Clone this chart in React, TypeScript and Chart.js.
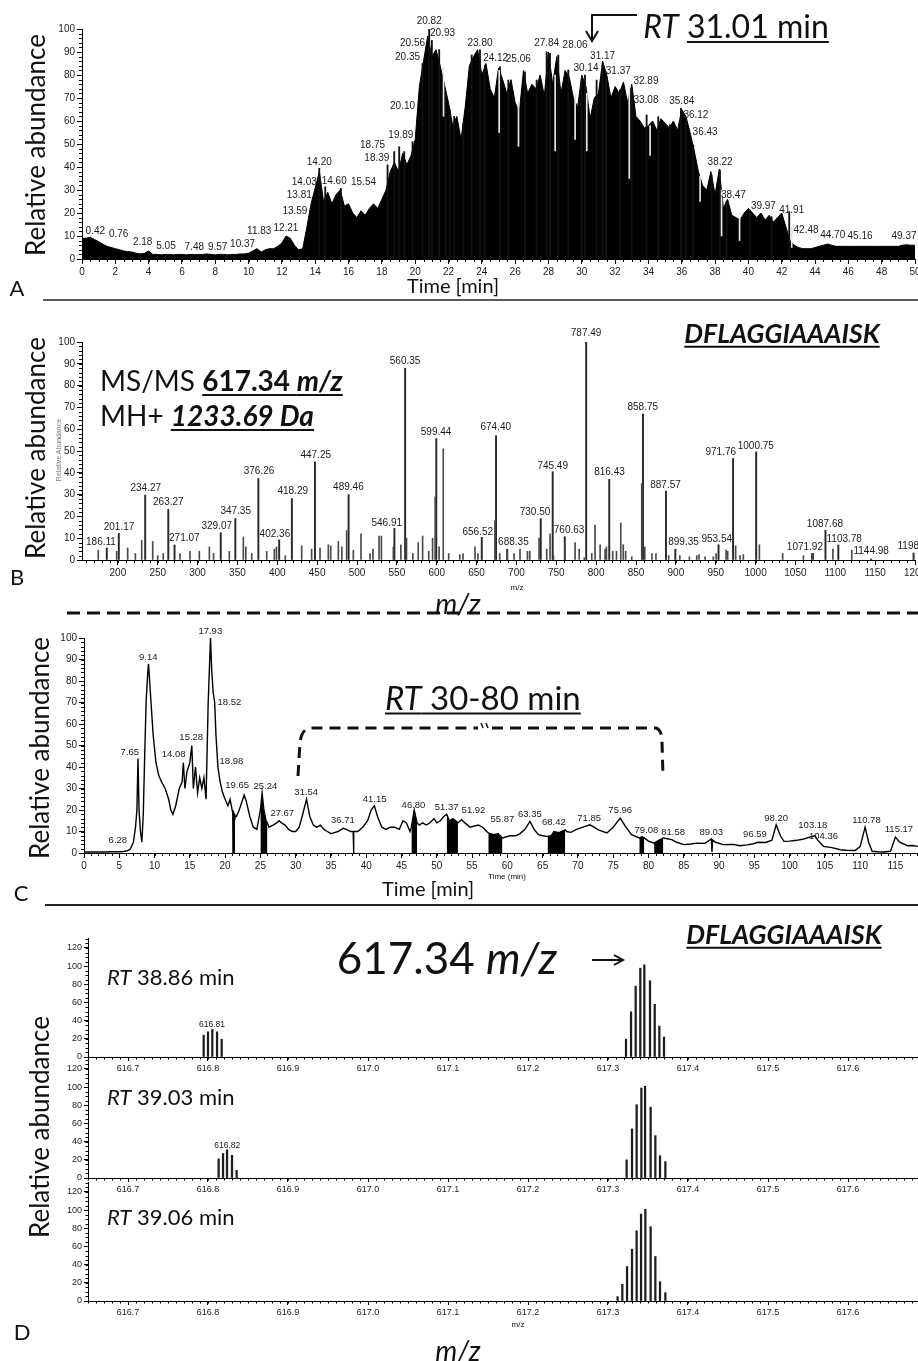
import React, { useEffect, useRef } from 'react';
import { Chart, registerables } from 'chart.js';

Chart.register(...registerables);

// ================= DATA =================
// Panel A – total ion chromatogram (time axis 0..50 min, sampled every 0.25 min)
const A_TIME_START = 0;
const A_TIME_STEP = 0.25;
const A_VALUES: number[] = [
  9, 9, 9.5, 8.5, 7.5, 6.5, 5.5, 5, 4.5, 4, 3.5, 3.2, 3, 2.5, 2.2, 2.5, 3.5, 2, 2, 1.8,
  2, 2, 1.8, 2, 2, 1.8, 2, 1.9, 2, 2, 2.2, 2, 1.8, 2, 2, 1.8, 2, 2, 2.2, 2.2,
  2.5, 3.5, 4.5, 3, 4, 4.5, 4.5, 5.5, 7, 10, 9, 6, 4, 4.5, 14, 24, 31, 38, 25, 29,
  24, 28, 30, 23, 24, 20, 18, 21, 19, 22, 24, 22, 26, 30, 38, 42, 38, 46, 41, 45,
  52, 75, 86, 97, 88, 91, 84, 76, 68, 58, 62, 52, 66, 84, 88, 91, 80, 85, 74, 70,
  83, 78, 72, 78, 68, 64, 82, 72, 76, 74, 80, 71, 90, 76, 88, 72, 82, 79, 70, 66,
  80, 75, 61, 70, 72, 86, 80, 70, 75, 72, 77, 68, 76, 62, 60, 57, 58, 60, 56, 61,
  59, 57, 60, 56, 65, 62, 55, 47, 38, 32, 30, 38, 28, 39, 22, 26, 19, 18, 17, 20,
  22, 20, 18, 20, 17, 19, 16, 18, 20, 14, 8, 6, 5, 4.5, 4.5, 4.5, 5, 5.5, 6, 6.5,
  6, 5.5, 5.5, 5.5, 5.5, 5.5, 5.5, 5.5, 5.5, 5.5, 5.5, 5.5, 5.5, 5.5, 5.5, 5.5, 5.5, 6, 6.2, 6,
  6,
];
// individual narrow scan spikes rising above the envelope [time, abundance]
const A_SPIKES: [number, number][] = [
  [14.24, 39.4], [14.6, 31.4], [15.54, 30.7], [18.34, 40.9], [18.74, 46.7], [19.04, 48.8], [19.34, 46.7],
  [19.84, 51], [20.44, 85], [20.84, 100], [21.0, 95], [21.44, 91], [21.84, 72], [22.08, 65], [22.34, 62],
  [22.89, 59], [23.39, 88.7], [23.89, 90.9], [24.18, 84.3], [25.09, 83.6], [25.59, 77.8], [26.59, 81.4],
  [27.29, 77.8], [27.89, 90.1], [28.09, 89.4], [28.59, 88.7], [29.19, 82.2], [29.99, 77.8], [30.19, 80],
  [30.89, 77.8], [31.25, 85], [31.45, 78.6], [32.29, 73.5], [32.99, 74.2], [33.89, 62.6], [34.59, 61.9],
  [35.29, 58.3], [35.95, 65.5], [36.25, 59.7], [36.69, 49.6], [37.79, 36.5], [38.29, 38.7], [38.69, 25],
  [40.09, 21.3], [41.39, 18.4], [42.45, 20.6],
];
// narrow dips cutting into the envelope [time, low, high]
const A_DIPS: [number, number, number][] = [
  [21.7, 62, 84], [25.04, 55, 82], [26.2, 49, 68], [28.4, 47, 80], [29.6, 52, 72], [30.3, 47, 72],
  [32.85, 35, 75], [34.1, 45, 58], [37.1, 25, 36], [38.39, 10, 30], [39.47, 8, 18], [42.6, 5, 14],
];
const A_X_TICKS = [0, 2, 4, 6, 8, 10, 12, 14, 16, 18, 20, 22, 24, 26, 28, 30, 32, 34, 36, 38, 40, 42, 44, 46, 48, 50];
const A_Y_TICKS = [0, 10, 20, 30, 40, 50, 60, 70, 80, 90, 100];
// [text, time, abundance] of each peak annotation
const A_PEAK_LABELS: [string, number, number][] = [
  ['0.42', 0.8, 12.2], ['0.76', 2.2, 10.7], ['2.18', 3.64, 7.1], ['5.05', 5.04, 5.4], ['7.48', 6.74, 5.1],
  ['9.57', 8.14, 5.1], ['10.37', 9.64, 6.4], ['11.83', 10.64, 12.2], ['12.21', 12.24, 13.3], ['13.59', 12.78, 20.9],
  ['13.81', 13.04, 27.8], ['14.03', 13.34, 33.2], ['14.20', 14.24, 42.2], ['14.60', 15.14, 33.9], ['15.54', 16.9, 33.3],
  ['18.39', 17.7, 43.8], ['18.75', 17.44, 49.6], ['19.89', 19.14, 53.6], ['20.10', 19.24, 66.5], ['20.35', 19.54, 87.7],
  ['20.56', 19.84, 94], ['20.82', 20.84, 103.5], ['20.93', 21.64, 98], ['23.80', 23.89, 93.8], ['24.12', 24.83, 87.2],
  ['25.06', 26.19, 86.8], ['27.84', 27.89, 94], ['28.06', 29.6, 92.8], ['30.14', 30.25, 82.9], ['31.17', 31.25, 88.3],
  ['31.37', 32.19, 81.7], ['32.89', 33.85, 77.1], ['33.08', 33.85, 69.1], ['35.84', 36.0, 68.4], ['36.12', 36.85, 62.6],
  ['36.43', 37.4, 54.9], ['38.22', 38.3, 41.9], ['38.47', 39.1, 27.8], ['39.97', 40.9, 23], ['41.91', 42.6, 21.3],
  ['42.48', 43.46, 12.6], ['44.70', 45.06, 10.4], ['45.16', 46.7, 9.7], ['49.37', 49.34, 10.1],
];

// Panel B – MS/MS spectrum [m/z, relative abundance]
const B_LABELED_PEAKS: [number, number][] = [
  [186.11, 5.5], [201.17, 12.2], [234.27, 29.8], [263.27, 23.2], [271.07, 6.9], [329.07, 12.5], [347.35, 19],
  [376.26, 37.4], [402.36, 9.2], [418.29, 28.2], [447.25, 45], [489.46, 30], [546.91, 14.5], [560.35, 88],
  [599.44, 55.7], [656.52, 10.4], [674.40, 57], [688.35, 5], [730.50, 19], [745.49, 40.5], [760.63, 10.7],
  [787.49, 100], [816.43, 37], [858.75, 67], [887.57, 31.6], [899.35, 5], [953.54, 7], [971.76, 46.6],
  [1000.75, 49.6], [1071.92, 3], [1087.68, 13.7], [1103.78, 6.9], [1144.98, 0.5], [1198.2, 3.2],
];
const B_MINOR_PEAKS: [number, number][] = [
  [175.4, 4.5], [198.5, 4], [212.3, 5.5], [222, 3], [229.9, 9], [243.7, 8.5], [250, 2], [257, 3], [278, 3],
  [290.5, 4], [302.2, 4], [314.8, 6], [320, 3], [339.8, 4], [357.4, 10.5], [360.5, 6], [368, 3], [386.7, 4],
  [396.3, 5], [399, 6], [410, 2], [430.6, 6.5], [443.1, 5], [453.6, 5.5], [464, 7], [467, 6.5], [476.6, 8.5],
  [481, 6], [487, 13.5], [495.4, 4.5], [505, 12], [516.3, 3], [520, 5], [527.6, 11], [530.6, 11], [545.6, 6],
  [555, 7], [562.1, 10], [570, 3], [576.8, 8], [582.3, 11], [590, 4], [594.8, 10], [598, 29], [603, 6],
  [608.2, 51], [615, 3], [629, 2.5], [633, 3], [648, 6], [651.6, 3], [673, 18], [679, 3], [688.6, 4], [697, 3],
  [704.5, 5], [713.8, 4], [716.7, 4], [728.4, 10], [738, 5], [742.2, 12], [746.5, 2], [761, 8], [773.6, 8],
  [778.7, 5], [785, 1], [794.5, 3], [798.6, 16], [805, 7], [811.2, 5], [812.9, 6], [820.8, 4], [825.5, 4],
  [830.9, 17], [834, 7], [837, 4], [844.7, 1.5], [857.2, 35], [861, 6], [870, 3], [875, 3], [891, 2], [905, 2],
  [917, 1.5], [926.2, 2], [929, 2.5], [936.7, 1.5], [947, 1.5], [950.5, 3], [963, 4.5], [965, 4], [975, 6.5],
  [980.6, 2], [984.7, 2.5], [1004.8, 7], [1034, 3], [1060, 2], [1070.5, 3], [1097, 5], [1120.7, 4.5],
];
const B_PEAK_LABELS: [string, number, number][] = [
  ['186.11', 178.8, 8], ['201.17', 201.4, 15], ['234.27', 235, 33], ['263.27', 263.3, 26.3], ['271.07', 283.4, 10],
  ['329.07', 324, 15.3], ['347.35', 347.8, 22.4], ['376.26', 377, 40.8], ['402.36', 397, 12], ['418.29', 419.4, 31.6],
  ['447.25', 448.2, 48], ['489.46', 489.2, 33.3], ['546.91', 537.3, 16.8], ['560.35', 560.3, 91.3], ['599.44', 599.2, 58.8],
  ['656.52', 651.5, 12.7], ['674.40', 674.1, 60.8], ['688.35', 696.2, 8], ['730.50', 723.3, 21.7], ['745.49', 745.5, 43.2],
  ['760.63', 766, 13.7], ['787.49', 787.4, 103.8], ['816.43', 816.7, 40.2], ['858.75', 858.5, 70.2], ['887.57', 887, 34.4],
  ['899.35', 909.6, 8], ['953.54', 951.3, 9.6], ['971.76', 956.3, 49.6], ['1000.75', 1000.3, 52.4], ['1071.92', 1061.9, 5.8],
  ['1087.68', 1087, 16.3], ['1103.78', 1111.2, 9.5], ['1144.98', 1145, 3.8], ['1198', 1191.6, 6.1],
];
const B_X_TICKS = [200, 250, 300, 350, 400, 450, 500, 550, 600, 650, 700, 750, 800, 850, 900, 950, 1000, 1050, 1100, 1150, 1200];
const B_Y_TICKS = [0, 10, 20, 30, 40, 50, 60, 70, 80, 90, 100];

// Panel C – extracted ion chromatogram [time, relative abundance]
const C_TRACE: [number, number][] = [
  [0, 0.5], [1, 0.5], [2, 0.5], [3, 0.5], [4, 0.6], [5, 0.6], [5.5, 0.7], [6, 0.9], [6.5, 1.5], [7, 5], [7.3, 12],
  [7.5, 20], [7.65, 44], [7.8, 20], [8.0, 10], [8.2, 5], [8.4, 18], [8.6, 45], [8.8, 70], [9.0, 82], [9.14, 88],
  [9.3, 80], [9.5, 70], [9.8, 55], [10.2, 42], [10.6, 36], [11, 33], [11.5, 30], [12, 25], [12.3, 20], [12.6, 18],
  [13, 22], [13.5, 30], [13.9, 33], [14.08, 42], [14.3, 30], [14.6, 38], [15, 42], [15.28, 50], [15.5, 30],
  [15.8, 40], [16.1, 28], [16.4, 35], [16.7, 30], [17, 35], [17.3, 25], [17.6, 70], [17.93, 100], [18.1, 85],
  [18.3, 75], [18.52, 70], [18.7, 55], [18.98, 40], [19.3, 33], [19.65, 28], [20, 25], [20.4, 22], [20.7, 25],
  [21.0, 20], [21.1, 18], [21.2, 0], [21.3, 18], [21.4, 17], [21.6, 17], [22, 20], [22.4, 24], [22.7, 27], [23, 24],
  [23.5, 17], [24, 12], [24.5, 11], [25.0, 20], [25.24, 28], [25.5, 20], [25.8, 15], [26.0, 14], [26.2, 12],
  [26.8, 13], [27.3, 14], [27.67, 15], [28, 14], [28.5, 13], [29, 11], [29.5, 10], [30, 10], [30.5, 12], [31, 18],
  [31.54, 25], [32, 17], [32.5, 13], [33, 12], [33.5, 13], [34, 11], [34.5, 10], [35, 9], [35.5, 9.5], [36, 10],
  [36.5, 11], [36.71, 11.5], [37.2, 11], [37.8, 10], [38.15, 10], [38.2, 0], [38.25, 10], [38.8, 10], [39.5, 12],
  [40.2, 15], [40.7, 20], [41.15, 22], [41.6, 17], [42.2, 12], [42.8, 11], [43.4, 12], [44, 12], [44.7, 11],
  [45.2, 15], [45.7, 14], [46.2, 10], [46.4, 12], [46.8, 20], [47.2, 14], [47.5, 13], [48, 14], [48.5, 13], [49, 14],
  [49.6, 16], [50, 14], [50.5, 15], [51, 17], [51.4, 18], [51.8, 15], [52.3, 16], [53, 14], [53.5, 15.5], [54, 14],
  [54.7, 12], [55.9, 13], [56.5, 12], [57.3, 9.3], [58, 8.5], [58.7, 9], [59.3, 7], [60.4, 8], [61.2, 8], [61.8, 9],
  [62.5, 11], [63.2, 14.7], [63.8, 11], [64.4, 8.5], [65, 8], [65.7, 7.7], [66.2, 8], [66.6, 10], [67.3, 9.5],
  [68.2, 10.8], [68.4, 10], [69, 9.6], [69.8, 11], [70.7, 12], [71.7, 13.1], [72.3, 12], [72.9, 10.8], [74.1, 9.3],
  [75, 12], [76, 16.2], [76.8, 12], [77.6, 8.5], [78.7, 7], [79.1, 7.5], [79.4, 7], [80, 5.5], [80.8, 4.6],
  [81.5, 6], [82.1, 7], [83.3, 6.2], [84, 5], [85, 3.9], [86, 4.2], [86.9, 4.6], [88, 4.5], [88.9, 6.5], [89, 0.5],
  [89.1, 6], [89.5, 5], [90.6, 3.9], [92, 4], [93, 3.4], [94, 3.8], [94.9, 4.3], [95.5, 5], [96.6, 4.9], [97.5, 6],
  [98.1, 13.1], [98.7, 8], [99.2, 5.4], [100, 5.5], [101, 5.9], [102, 6.5], [103.2, 7.7], [103.6, 8], [104, 6],
  [104.8, 3.1], [106, 2.5], [107.2, 1.5], [108, 1.3], [109.3, 1.2], [110, 3], [110.7, 12], [111.2, 5], [111.7, 0.8],
  [112.5, 0.6], [113.3, 0.5], [114.3, 0.8], [115, 7.4], [115.6, 5], [116.7, 3.4], [117.4, 3.5], [118.2, 3.1],
];
const C_FILLED_RANGES: [number, number][] = [
  [21.0, 21.4], [25.0, 26.0], [46.4, 47.2], [51.4, 53.0], [57.3, 59.3], [65.7, 66.2], [66.6, 68.2], [78.7, 79.4], [80.8, 82.1],
];
const C_PEAK_LABELS: [string, number, number][] = [
  ['6.28', 4.8, 5.9], ['7.65', 6.5, 47], ['9.14', 9.1, 91], ['14.08', 12.7, 46], ['15.28', 15.2, 54], ['17.93', 17.9, 103],
  ['18.52', 20.6, 70], ['18.98', 20.9, 42.5], ['19.65', 21.7, 31.4], ['25.24', 25.7, 31.2], ['27.67', 28.1, 18.5],
  ['31.54', 31.5, 28.4], ['36.71', 36.7, 15.1], ['41.15', 41.2, 25], ['46.80', 46.7, 22], ['51.37', 51.4, 21.2],
  ['51.92', 55.2, 19.8], ['55.87', 59.3, 15.5], ['63.35', 63.2, 17.8], ['68.42', 66.6, 14.2], ['71.85', 71.6, 16.2],
  ['75.96', 76, 19.8], ['79.08', 79.7, 10.5], ['81.58', 83.5, 9.7], ['89.03', 88.9, 9.7], ['96.59', 95.1, 8.5],
  ['98.20', 98.1, 16.2], ['103.18', 103.3, 12.7], ['104.36', 104.8, 7.7], ['110.78', 110.9, 15.1], ['115.17', 115.5, 11.1],
];
const C_X_TICKS = [0, 5, 10, 15, 20, 25, 30, 35, 40, 45, 50, 55, 60, 65, 70, 75, 80, 85, 90, 95, 100, 105, 110, 115];
const C_Y_TICKS = [0, 10, 20, 30, 40, 50, 60, 70, 80, 90, 100];

// Panel D – full-scan isotope clusters at three retention times [m/z, relative abundance]
const D_RT_LABELS = ['38.86', '39.03', '39.06'];
const D1_PEAKS: [number, number][] = [
  [616.7946, 24], [616.80, 27.7], [616.8054, 30.3], [616.8113, 27.7], [616.8171, 19.6],
  [617.3225, 19.6], [617.3288, 49.8], [617.3346, 78], [617.3404, 97.8], [617.3454, 101.5], [617.3525, 84],
  [617.3584, 58], [617.3642, 34], [617.37, 22],
];
const D2_PEAKS: [number, number][] = [
  [616.8133, 21], [616.8188, 27], [616.8238, 31], [616.83, 25], [616.8358, 8.4],
  [617.3233, 20], [617.33, 54], [617.3358, 80.7], [617.3417, 99], [617.3463, 101], [617.3533, 78],
  [617.3592, 46.6], [617.365, 24.6], [617.3717, 18],
];
const D3_PEAKS: [number, number][] = [
  [617.312, 4.8], [617.3179, 18.4], [617.3238, 37.9], [617.33, 57], [617.3358, 77.3], [617.3413, 95.7],
  [617.3467, 101], [617.3533, 81.7], [617.3592, 49], [617.365, 21.3], [617.3717, 9.2],
];
const D_PEAK_LABELS: [string, number, number][][] = [
  [['616.81', 616.805, 36]],
  [['616.82', 616.824, 36]],
  [],
];
const D_X_TICKS = [616.7, 616.8, 616.9, 617.0, 617.1, 617.2, 617.3, 617.4, 617.5, 617.6];
const D_Y_TICKS = [0, 20, 40, 60, 80, 100, 120];

// ================= STYLE / LAYOUT =================
const LABEL_FONT = '"Liberation Sans Narrow", "Arial Narrow", "Liberation Sans", Arial, sans-serif';
const BIG_FONT = 'Lato, "Open Sans", "Noto Sans", sans-serif';
Chart.defaults.font.family = LABEL_FONT;

interface Geo { left: number; top: number; width: number; height: number; padTop: number; padRight: number; yW: number; xH: number; }

const annotPlugin = {
  id: 'annot',
  afterDatasetsDraw(chart: any, _args: any, opts: any) {
    const { ctx, chartArea: a } = chart;
    const xs = chart.scales.x;
    const ys = chart.scales.y;
    ctx.save();
    ctx.strokeStyle = '#000';
    ctx.lineWidth = 1;
    if (opts.minorX) {
      const s = opts.minorX;
      const k0 = Math.ceil(xs.min / s - 1e-6);
      const k1 = Math.floor(xs.max / s + 1e-6);
      ctx.beginPath();
      for (let k = k0; k <= k1; k++) {
        const px = Math.round(xs.getPixelForValue(k * s)) + 0.5;
        ctx.moveTo(px, a.bottom);
        ctx.lineTo(px, a.bottom + opts.minorLen);
      }
      ctx.stroke();
    }
    if (opts.minorY) {
      const s = opts.minorY;
      const k0 = Math.ceil(ys.min / s - 1e-6);
      const k1 = Math.floor(ys.max / s + 1e-6);
      ctx.beginPath();
      for (let k = k0; k <= k1; k++) {
        const py = Math.round(ys.getPixelForValue(k * s)) + 0.5;
        ctx.moveTo(a.left, py);
        ctx.lineTo(a.left - opts.minorLen, py);
      }
      ctx.stroke();
    }
    if (opts.labels) {
      ctx.font = opts.labelFont;
      ctx.fillStyle = '#1a1a1a';
      ctx.textAlign = 'center';
      ctx.textBaseline = 'middle';
      for (const [t, lx, ly] of opts.labels) {
        ctx.fillText(t, xs.getPixelForValue(lx), ys.getPixelForValue(ly));
      }
    }
    ctx.restore();
  },
};

function axis(dir: 'x' | 'y', min: number, max: number, ticks: number[], fmt: (v: number) => string,
  size: number, geo: Geo, tickLen: number) {
  return {
    type: 'linear',
    position: dir === 'x' ? 'bottom' : 'left',
    min, max, offset: false,
    afterBuildTicks: (s: any) => { s.ticks = ticks.map((v) => ({ value: v })); },
    afterFit: (s: any) => {
      if (dir === 'x') { s.height = geo.xH; s.paddingLeft = 0; s.paddingRight = 0; }
      else { s.width = geo.yW; s.paddingTop = 0; s.paddingBottom = 0; }
    },
    ticks: {
      autoSkip: false, maxRotation: 0, minRotation: 0, padding: 2, color: '#1a1a1a',
      font: { size, family: LABEL_FONT }, callback: (v: any) => fmt(Number(v)),
    },
    grid: { display: true, drawOnChartArea: false, drawTicks: true, tickLength: tickLen, color: '#000', lineWidth: 1, offset: false },
    border: { display: true, color: '#000', width: 1 },
  };
}

function baseOptions(geo: Geo, x: any, y: any, annot: any) {
  return {
    responsive: false, animation: false, devicePixelRatio: 1, events: [],
    layout: { padding: { top: geo.padTop, right: geo.padRight, left: 0, bottom: 0 } },
    plugins: { legend: { display: false }, tooltip: { enabled: false }, annot },
    scales: { x, y },
  };
}

function ChartBox({ geo, build }: { geo: Geo; build: () => any }) {
  const ref = useRef<HTMLCanvasElement>(null);
  useEffect(() => {
    const c = new Chart(ref.current as HTMLCanvasElement, build());
    return () => c.destroy();
  }, []);
  return (
    <canvas ref={ref} width={geo.width} height={geo.height}
      style={{ position: 'absolute', left: geo.left, top: geo.top, width: geo.width, height: geo.height }} />
  );
}

const GEO_A: Geo = { left: 42, top: 5, width: 876, height: 276, padTop: 24, padRight: 3, yW: 40, xH: 22 };
const GEO_B: Geo = { left: 42, top: 300, width: 876, height: 282, padTop: 42, padRight: 3, yW: 40, xH: 22 };
const GEO_C: Geo = { left: 44, top: 615, width: 874, height: 258, padTop: 23, padRight: 0, yW: 40, xH: 20 };
const GEO_D: Geo[] = [
  { left: 48, top: 930, width: 870, height: 145, padTop: 8, padRight: 0, yW: 40, xH: 18 },
  { left: 48, top: 1051, width: 870, height: 145, padTop: 8, padRight: 0, yW: 40, xH: 18 },
  { left: 48, top: 1174, width: 870, height: 145, padTop: 8, padRight: 0, yW: 40, xH: 18 },
];

const intFmt = (v: number) => String(Math.round(v));

function buildA() {
  const data = A_VALUES.map((v, i) => ({ x: A_TIME_START + i * A_TIME_STEP, y: v }));
  return {
    type: 'line',
    data: {
      datasets: [
        { type: 'line', data, borderColor: '#000', borderWidth: 1, backgroundColor: '#000', fill: 'origin', pointRadius: 0, tension: 0, order: 3 },
        { type: 'bar', data: A_SPIKES.map(([x, y]) => ({ x, y })), backgroundColor: '#111', barThickness: 1.2, grouped: false, order: 2 },
        { type: 'bar', data: A_DIPS.map(([x, lo, hi]) => ({ x, y: [lo, hi] })), backgroundColor: '#e8e8e8', barThickness: 1, grouped: false, order: 1 },
      ],
    },
    options: baseOptions(GEO_A,
      axis('x', 0, 50, A_X_TICKS, intFmt, 10, GEO_A, 5),
      axis('y', 0, 100, A_Y_TICKS, intFmt, 10, GEO_A, 5),
      { minorX: 0.5, minorY: 2, minorLen: 3, labels: A_PEAK_LABELS, labelFont: `10px ${LABEL_FONT}` }),
    plugins: [annotPlugin],
  };
}

function buildB() {
  return {
    type: 'bar',
    data: {
      datasets: [
        { data: B_MINOR_PEAKS.map(([x, y]) => ({ x, y })), backgroundColor: '#4a4a4a', barThickness: 1, grouped: false },
        { data: B_LABELED_PEAKS.map(([x, y]) => ({ x, y })), backgroundColor: '#2a2a2a', barThickness: 1.3, grouped: false },
      ],
    },
    options: baseOptions(GEO_B,
      axis('x', 155, 1200, B_X_TICKS, intFmt, 10, GEO_B, 5),
      axis('y', 0, 100, B_Y_TICKS, intFmt, 10, GEO_B, 5),
      { minorX: 10, minorY: 2, minorLen: 3, labels: B_PEAK_LABELS, labelFont: `10px ${LABEL_FONT}` }),
    plugins: [annotPlugin],
  };
}

function buildC() {
  const line = C_TRACE.map(([x, y]) => ({ x, y }));
  const inFill = (t: number) => C_FILLED_RANGES.some(([a, b]) => t >= a - 1e-9 && t <= b + 1e-9);
  const filled = C_TRACE.map(([x, y]) => ({ x, y: inFill(x) ? y : null }));
  return {
    type: 'line',
    data: {
      datasets: [
        { data: filled, borderWidth: 0, borderColor: '#000', backgroundColor: '#000', fill: 'origin', pointRadius: 0, spanGaps: false, tension: 0 },
        { data: line, borderColor: '#000', borderWidth: 1.4, fill: false, pointRadius: 0, tension: 0 },
      ],
    },
    options: baseOptions(GEO_C,
      axis('x', 0, 118.2, C_X_TICKS, intFmt, 10, GEO_C, 5),
      axis('y', 0, 100, C_Y_TICKS, intFmt, 10, GEO_C, 5),
      { minorX: 1, minorY: 2, minorLen: 3, labels: C_PEAK_LABELS, labelFont: `9.5px ${LABEL_FONT}` }),
    plugins: [annotPlugin],
  };
}

function buildD(i: number) {
  const peaks = [D1_PEAKS, D2_PEAKS, D3_PEAKS][i];
  const geo = GEO_D[i];
  return {
    type: 'bar',
    data: { datasets: [{ data: peaks.map(([x, y]) => ({ x, y })), backgroundColor: '#1e1e1e', barThickness: 1.6, grouped: false }] },
    options: baseOptions(geo,
      axis('x', 616.65, 617.6875, D_X_TICKS, (v) => v.toFixed(1), 9, geo, 4),
      axis('y', 0, 131, D_Y_TICKS, intFmt, 9, geo, 4),
      { minorX: 0.01, minorY: 5, minorLen: 2.5, labels: D_PEAK_LABELS[i], labelFont: `8.5px ${LABEL_FONT}` }),
    plugins: [annotPlugin],
  };
}

// ================= TEXT HELPERS =================
const UL: React.CSSProperties = { textDecoration: 'underline', textDecorationThickness: '2px', textUnderlineOffset: '3px' };

function Txt({ x, y, size, rot, left, children, style }: any) {
  const tr = left ? 'translate(0, -50%)' : `translate(-50%, -50%)${rot ? ' rotate(-90deg)' : ''}`;
  return (
    <div style={{
      position: 'absolute', left: x, top: y, transform: tr, fontFamily: BIG_FONT, fontSize: size,
      lineHeight: 1, whiteSpace: 'nowrap', color: '#111', ...style,
    }}>{children}</div>
  );
}

export default function App() {
  return (
    <div style={{ position: 'absolute', left: 0, top: 0, width: 918, height: 1361, overflow: 'hidden', background: '#fff' }}>
      <ChartBox geo={GEO_A} build={buildA} />
      <ChartBox geo={GEO_B} build={buildB} />
      <ChartBox geo={GEO_C} build={buildC} />
      <ChartBox geo={GEO_D[0]} build={() => buildD(0)} />
      <ChartBox geo={GEO_D[1]} build={() => buildD(1)} />
      <ChartBox geo={GEO_D[2]} build={() => buildD(2)} />

      <svg width={918} height={1361} style={{ position: 'absolute', left: 0, top: 0, pointerEvents: 'none' }}>
        {/* panel A arrow */}
        <path d="M637 15 L592 15 L592 40" stroke="#111" strokeWidth={2} fill="none" />
        <path d="M586 31 L592 41 L598 31" stroke="#111" strokeWidth={2} fill="none" />
        {/* separators */}
        <line x1={43} y1={300} x2={918} y2={300} stroke="#222" strokeWidth={1.5} />
        <line x1={67} y1={613} x2={918} y2={613} stroke="#111" strokeWidth={3} strokeDasharray="13 7" />
        <line x1={45} y1={905} x2={918} y2={905} stroke="#222" strokeWidth={2} />
        {/* RT 30-80 bracket */}
        <path d="M298 776 L300 742 Q302 729 310 728 L478 728" stroke="#111" strokeWidth={3} fill="none" strokeDasharray="11 7" />
        <path d="M481 723 L483 728 M486 723 L488 728" stroke="#111" strokeWidth={1.5} fill="none" />
        <path d="M492 728 L656 728 Q662 730 662 742 L663 776" stroke="#111" strokeWidth={3} fill="none" strokeDasharray="11 7" />
        {/* panel D arrow */}
        <path d="M592 960 L622 960" stroke="#111" strokeWidth={2} fill="none" />
        <path d="M614 955 L623 960 L614 965" stroke="#111" strokeWidth={2} fill="none" />
      </svg>

      {/* Panel A text */}
      <Txt x={35} y={145} size={26} rot>Relative abundance</Txt>
      <Txt x={17} y={288} size={22}>A</Txt>
      <Txt x={453} y={285} size={20}>Time [min]</Txt>
      <Txt x={736} y={26} size={32}><i>RT</i> <span style={UL}>31.01 min</span></Txt>

      {/* Panel B text */}
      <Txt x={35} y={448} size={26} rot>Relative abundance</Txt>
      <Txt x={58} y={450} size={7} rot style={{ fontFamily: LABEL_FONT, color: '#777' }}>Relative Abundance</Txt>
      <Txt x={17} y={577} size={22}>B</Txt>
      <Txt x={100} y={380} size={28} left>MS/MS <b style={UL}>617.34 <i>m/z</i></b></Txt>
      <Txt x={100} y={415} size={28} left>MH+ <b><i style={UL}>1233.69 Da</i></b></Txt>
      <Txt x={782} y={333} size={26.5}><b><i style={UL}>DFLAGGIAAAISK</i></b></Txt>
      <Txt x={517} y={588} size={8} style={{ fontFamily: LABEL_FONT }}>m/z</Txt>
      <Txt x={458} y={603} size={28}><i>m/z</i></Txt>

      {/* Panel C text */}
      <Txt x={39} y={748} size={26} rot>Relative abundance</Txt>
      <Txt x={21} y={893} size={22}>C</Txt>
      <Txt x={428} y={888} size={20}>Time [min]</Txt>
      <Txt x={507} y={877} size={8} style={{ fontFamily: LABEL_FONT }}>Time (min)</Txt>
      <Txt x={385} y={697} size={33} left><span style={UL}><i>RT</i> 30-80 min</span></Txt>

      {/* Panel D text */}
      <Txt x={39} y={1127} size={26} rot>Relative abundance</Txt>
      <Txt x={22} y={1332} size={22}>D</Txt>
      <Txt x={447} y={957} size={44}>617.34 <i>m/z</i></Txt>
      <Txt x={784} y={934} size={26.5}><b><i style={UL}>DFLAGGIAAAISK</i></b></Txt>
      <Txt x={107} y={977} size={22} left><i>RT</i> {D_RT_LABELS[0]} min</Txt>
      <Txt x={107} y={1097} size={22} left><i>RT</i> {D_RT_LABELS[1]} min</Txt>
      <Txt x={107} y={1217} size={22} left><i>RT</i> {D_RT_LABELS[2]} min</Txt>
      <Txt x={518} y={1325} size={8} style={{ fontFamily: LABEL_FONT }}>m/z</Txt>
      <Txt x={458} y={1350} size={28}><i>m/z</i></Txt>
    </div>
  );
}
